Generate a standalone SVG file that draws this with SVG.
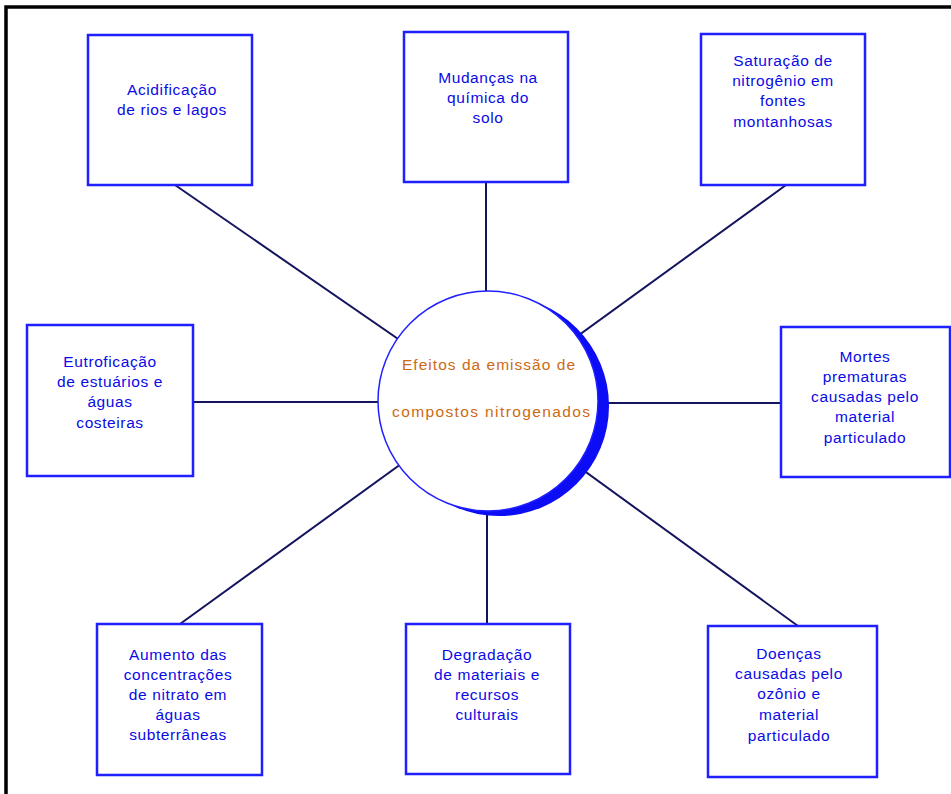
<svg xmlns="http://www.w3.org/2000/svg" width="951" height="794" viewBox="0 0 951 794">
<style>
.box rect{fill:#ffffff;stroke:#1f1fff;stroke-width:2.5}
.box text{font-family:"Liberation Sans",Arial,sans-serif;font-size:15.5px;fill:#0a0ae6;text-anchor:middle;letter-spacing:0.6px}
.conn line{stroke:#14145e;stroke-width:2}
.ctext{font-family:"Liberation Sans",Arial,sans-serif;font-size:15.5px;fill:#cc6a14}
</style>
<rect x="0" y="0" width="951" height="794" fill="#ffffff"/>
<path d="M6,800 V7 H960" fill="none" stroke="#000000" stroke-width="3.5"/>
<g id="connectors" class="conn">
<line x1="175" y1="185" x2="488" y2="401"/>
<line x1="486" y1="182" x2="486" y2="401"/>
<line x1="786" y1="185" x2="488" y2="401"/>
<line x1="193" y1="402" x2="488" y2="402"/>
<line x1="781" y1="403" x2="488" y2="403"/>
<line x1="180" y1="624" x2="488" y2="401"/>
<line x1="487" y1="624" x2="487" y2="401"/>
<line x1="798" y1="626" x2="488" y2="401"/>
</g>
<g id="center">
<circle cx="499" cy="406" r="110" fill="#0d0df5"/>
<circle cx="488" cy="401" r="110" fill="#ffffff" stroke="#1f1fff" stroke-width="1.5"/>
<text class="ctext" x="402" y="370" textLength="173" lengthAdjust="spacing">Efeitos da emissão de</text>
<text class="ctext" x="392" y="417" textLength="198" lengthAdjust="spacing">compostos nitrogenados</text>
</g>
<g id="n1" class="box">
<rect x="88" y="35" width="164" height="150"/>
<text x="172" y="95">Acidificação</text>
<text x="172" y="115">de rios e lagos</text>
</g>
<g id="n2" class="box">
<rect x="404" y="32" width="164" height="150"/>
<text x="488" y="83">Mudanças na</text>
<text x="488" y="103">química do</text>
<text x="488" y="123">solo</text>
</g>
<g id="n3" class="box">
<rect x="701" y="34" width="164" height="151"/>
<text x="783" y="66">Saturação de</text>
<text x="783" y="86">nitrogênio em</text>
<text x="783" y="106">fontes</text>
<text x="783" y="127">montanhosas</text>
</g>
<g id="n4" class="box">
<rect x="27" y="325" width="166" height="151"/>
<text x="110" y="367">Eutroficação</text>
<text x="110" y="387">de estuários e</text>
<text x="110" y="407">águas</text>
<text x="110" y="428">costeiras</text>
</g>
<g id="n5" class="box">
<rect x="781" y="327" width="169" height="150"/>
<text x="865" y="362">Mortes</text>
<text x="865" y="382">prematuras</text>
<text x="865" y="402">causadas pelo</text>
<text x="865" y="422">material</text>
<text x="865" y="443">particulado</text>
</g>
<g id="n6" class="box">
<rect x="97" y="624" width="165" height="151"/>
<text x="178" y="660">Aumento das</text>
<text x="178" y="680">concentrações</text>
<text x="178" y="700">de nitrato em</text>
<text x="178" y="720">águas</text>
<text x="178" y="740">subterrâneas</text>
</g>
<g id="n7" class="box">
<rect x="406" y="624" width="164" height="150"/>
<text x="487" y="660">Degradação</text>
<text x="487" y="680">de materiais e</text>
<text x="487" y="700">recursos</text>
<text x="487" y="720">culturais</text>
</g>
<g id="n8" class="box">
<rect x="708" y="626" width="169" height="151"/>
<text x="789" y="659">Doenças</text>
<text x="789" y="679">causadas pelo</text>
<text x="789" y="699">ozônio e</text>
<text x="789" y="720">material</text>
<text x="789" y="741">particulado</text>
</g>
</svg>
